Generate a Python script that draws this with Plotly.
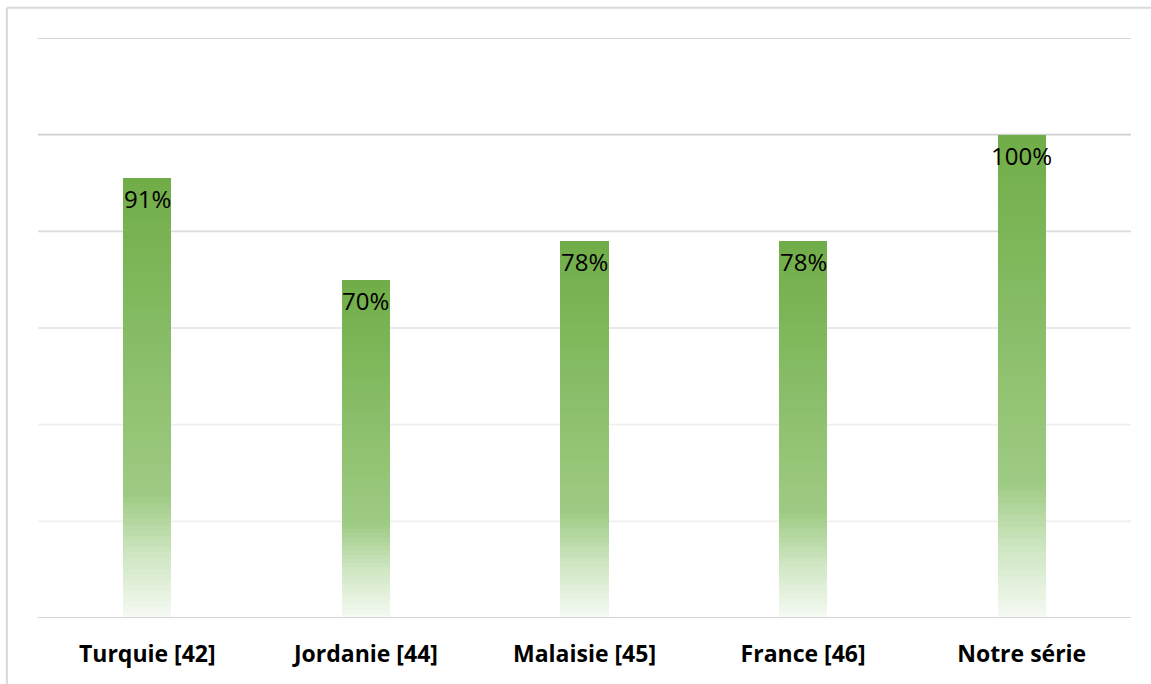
import plotly.graph_objects as go

# Share of cases per study (%)
categories = ["Turquie [42]", "Jordanie [44]", "Malaisie [45]", "France [46]", "Notre série"]
values = [91, 70, 78, 78, 100]

# Vertical gradient stops: (position from top of bar, rgb)
grad_stops = [(0.0, (112, 173, 71)), (0.72, (158, 203, 131)), (0.85, (205, 229, 192)), (1.0, (246, 250, 244))]
N_SEG = 80


def grad_color(t):
    for (t0, c0), (t1, c1) in zip(grad_stops[:-1], grad_stops[1:]):
        if t <= t1:
            f = (t - t0) / (t1 - t0) if t1 > t0 else 0
            return "rgb(%d,%d,%d)" % tuple(round(a + (b - a) * f) for a, b in zip(c0, c1))
    return "rgb(%d,%d,%d)" % grad_stops[-1][1]


fig = go.Figure()

# Each bar is built from stacked slices so its fill fades from green to white
xs, bases, heights, colors = [], [], [], []
for cat, v in zip(categories, values):
    step = v / N_SEG
    for i in range(N_SEG):
        t = 1 - (i + 0.5) / N_SEG
        xs.append(cat)
        bases.append(i * step)
        heights.append(step * 1.15 if i < N_SEG - 1 else step)
        colors.append(grad_color(t))

fig.add_trace(go.Bar(
    x=xs, y=heights, base=bases,
    marker=dict(color=colors, line=dict(width=0)),
    width=0.22, hoverinfo="skip", showlegend=False,
))

# Value labels just under each bar top
for cat, v in zip(categories, values):
    fig.add_annotation(
        x=cat, y=v, text=f"{v}%", showarrow=False, yanchor="top", yshift=-2,
        font=dict(family="Open Sans", size=24, color="#000000"),
    )

# Horizontal gridlines
grid_levels = [20, 40, 60, 80, 100, 120]
grid_colors = ["#efefef", "#efefef", "#e2e2e2", "#dcdcdc", "#cfcfcf", "#c8c8c8"]
for lv, col in zip(grid_levels, grid_colors):
    fig.add_shape(type="line", xref="paper", yref="y", x0=0, x1=1, y0=lv, y1=lv,
                  line=dict(color=col, width=1.6), layer="below")
fig.add_shape(type="line", xref="paper", yref="y", x0=0, x1=1, y0=0, y1=0,
              line=dict(color="#d6d6d6", width=2), layer="above")

# Chart frame (top and left edges)
fig.add_shape(type="line", xref="paper", yref="paper", x0=-0.0285, x1=1.05, y0=1.052, y1=1.052,
              line=dict(color="#d9d9d9", width=2))
fig.add_shape(type="line", xref="paper", yref="paper", x0=-0.0285, x1=-0.0285, y0=1.052, y1=-0.2,
              line=dict(color="#d9d9d9", width=2))

fig.update_layout(
    width=1151, height=684,
    margin=dict(l=38, r=20, t=38, b=66),
    paper_bgcolor="white", plot_bgcolor="white",
    barmode="overlay", bargap=0,
    xaxis=dict(showgrid=False, showline=False, ticks="", zeroline=False,
               tickfont=dict(family="Open Sans", size=23, color="#000000", weight="bold"),
               ticklabelstandoff=20),
    yaxis=dict(range=[0, 120], showgrid=False, zeroline=False, showticklabels=False, showline=False),
)

fig.write_html("out.html")
